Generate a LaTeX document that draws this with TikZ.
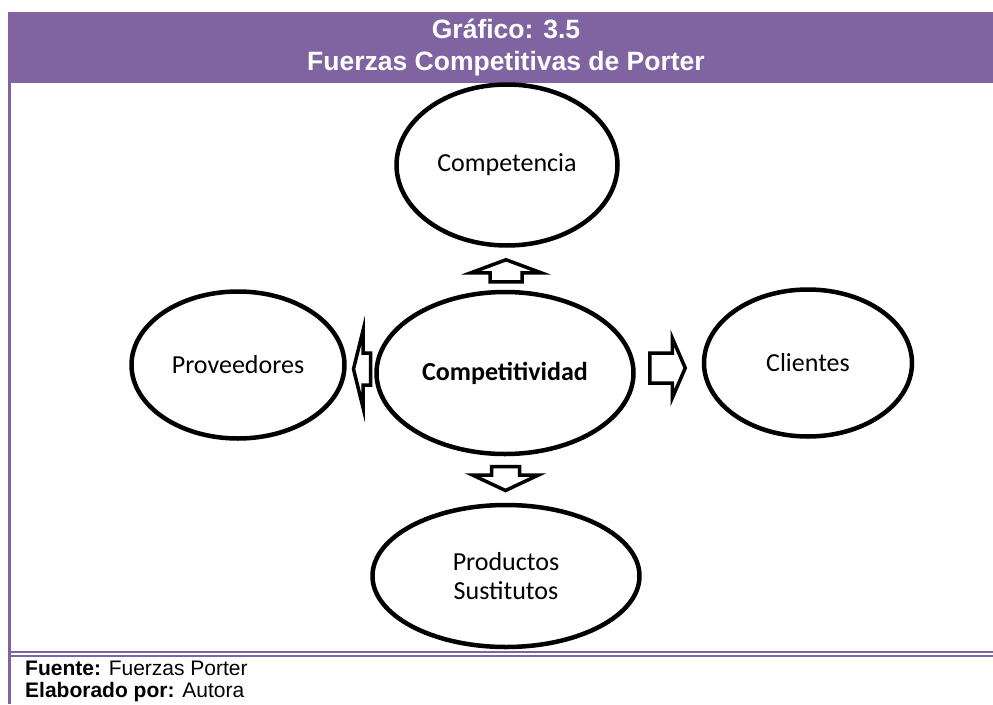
\documentclass[tikz,border=0pt]{standalone}
\usepackage{fontspec}
\setmainfont{Carlito}
\newfontfamily\arialfont{Liberation Sans}
\usetikzlibrary{shapes.geometric,calc}
\definecolor{porterpurple}{HTML}{8064A2}

\begin{document}
\begin{tikzpicture}[x=1pt,y=-1pt]
\tikzstyle{force}=[
	ellipse,
	draw,
	line width=4.5pt,
	inner sep=0pt,
	align=center,
	font=\fontsize{26}{29}\selectfont ]
\tikzstyle{push}=[draw, line width=3.5pt, fill=white, line join=miter]
\tikzstyle{heading}=[inner sep=0pt, anchor=base, text=white, font=\arialfont\bfseries\fontsize{26.5}{32}\selectfont]
\tikzstyle{note}=[inner sep=0pt, anchor=base west, font=\arialfont\fontsize{21}{22}\selectfont]
\useasboundingbox (0,0) rectangle (993,704);
\fill[porterpurple] (8,12) rectangle (993,83);
\fill[porterpurple] (8,83) rectangle (11,704);
\draw[porterpurple, line width=1.5pt] (11,652) -- (993,652) (11,656) -- (993,656);
\node[heading] (title) at (506,38) {Gráfico: 3.5};
\node[heading] (subtitle) at (506,70) {Fuerzas Competitivas de Porter};
\node[note] (source) at (25,675) {\textbf{Fuente:} Fuerzas Porter};
\node[note] (author) at (25,697) {\textbf{Elaborado por:} Autora};
\node[force, minimum width=221pt, minimum height=161pt] (comp) at (507,165) {Competencia};
\node[force, minimum width=257pt, minimum height=162pt] (ctv) at (505,373) {\textbf{Competitividad}};
\node[force, minimum width=213pt, minimum height=147pt] (prov) at (238,365) {Proveedores};
\node[force, minimum width=208pt, minimum height=147pt] (cli) at (808,363) {Clientes};
\node[force, minimum width=267pt, minimum height=142pt] (prod) at (506,576) {Productos\\Sustitutos};
\coordinate (up) at ($(ctv.north)!0.5!(comp.south)$);
\coordinate (down) at ($(ctv.south)!0.5!(prod.north)$);
\coordinate (right) at ($(ctv.east)!0.5!(cli.west)$);
\coordinate (left) at ($(prov.east)!0.5!(ctv.west)$);
\draw[push, shift={(up)}, rotate=90]
	(-13,-16) -- (-4,-16) -- (-4,-35) -- (9,0) -- (-4,35) -- (-4,16) -- (-13,16) -- cycle;
\draw[push, shift={(down)}, rotate=-90]
	(-13,-14) -- (-4.5,-14) -- (-4.5,-33) -- (11,0) -- (-4.5,33) -- (-4.5,14) -- (-13,14) -- cycle;
\draw[push, shift={(right)}, rotate=0]
	(-19,-15) -- (3.5,-15) -- (3.5,-30) -- (16.5,0) -- (3.5,30) -- (3.5,15) -- (-19,15) -- cycle;
\draw[push, shift={(left)}, rotate=180]
	(-10,-16) -- (-2.5,-16) -- (-2.5,-38.5) -- (7,0) -- (-2.5,38.5) -- (-2.5,16) -- (-10,16) -- cycle;
\end{tikzpicture}
\end{document}
